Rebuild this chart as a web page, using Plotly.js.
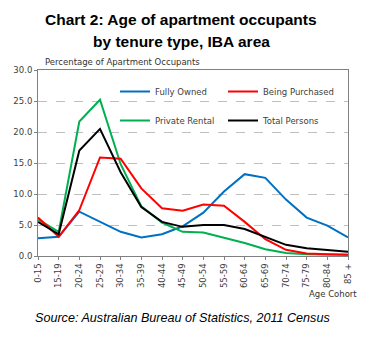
<!DOCTYPE html>
<html><head><meta charset="utf-8">
<script src="https://cdn.plot.ly/plotly-3.0.1.min.js"></script>
<style>html,body{margin:0;padding:0;background:#fff}#chart{width:381px;height:356px}</style>
</head><body><div id="chart"></div>
<script>
const ageCohorts = ["0-15","15-19","20-24","25-29","30-34","35-39","40-44","45-49","50-54","55-59","60-64","65-69","70-74","75-79","80-84","85 +"];
const fullyOwned     = [2.85,3.1,7.15,5.5,3.9,3.0,3.5,4.8,7.0,10.4,13.2,12.6,9.1,6.2,4.9,3.0];
const beingPurchased = [6.2,3.1,7.4,15.9,15.7,10.9,7.7,7.3,8.3,8.1,5.5,2.7,1.0,0.4,0.3,0.2];
const privateRental  = [5.9,3.9,21.7,25.2,14.8,8.0,5.4,3.9,3.8,3.0,2.1,1.1,0.5,0.3,0.2,0.2];
const totalPersons   = [5.5,3.5,17.0,20.5,13.5,7.9,5.5,4.7,5.0,5.0,4.35,3.1,1.8,1.25,1.0,0.7];

const L=38, R=33, T=70, B=100, W=381, H=356;
const pw = W-L-R, ph = H-T-B;
const px = x => (x-L)/pw;
const py = y => (H-B-y)/ph;

function tr(name, y, color, lg, grp){
  return {type:'scatter', mode:'lines', x:ageCohorts, y:y, name:name,
    line:{color:color, width:2}, legend:lg, legendgroup:grp, hoverinfo:'skip'};
}
const data = [
  tr("Fully Owned", fullyOwned, "#0070C0", "legend", "a"),
  tr("Private Rental", privateRental, "#00B050", "legend", "b"),
  tr("Being Purchased", beingPurchased, "#FF0000", "legend2", "c"),
  tr("Total Persons", totalPersons, "#000000", "legend2", "d")
];
const f = {family:"DejaVu Sans", size:8.5, color:"#404040"};
const legBase = {font:f, bgcolor:'rgba(0,0,0,0)', borderwidth:0, tracegroupgap:10,
  xanchor:'left', yanchor:'top', itemwidth:30};
const tf = {family:"Liberation Sans, Arial", size:15.5, color:'#000'};
const layout = {
  width:W, height:H, margin:{l:L, r:R, t:T, b:B}, showlegend:true,
  paper_bgcolor:'#fff', plot_bgcolor:'#fff', font:f,
  xaxis:{type:'category', range:[0,15], tickangle:-90, tickfont:f, ticks:'outside', ticklen:3, tickcolor:'#808080',
    showgrid:false, showline:true, mirror:true, linecolor:'#808080', linewidth:1, zeroline:false, fixedrange:true},
  yaxis:{range:[0,30], dtick:5, tickformat:'.1f', tickfont:f, ticks:'outside', ticklen:3, tickcolor:'#808080',
    showgrid:true, gridcolor:'#bfbfbf', griddash:'dash', gridwidth:1,
    showline:true, mirror:true, linecolor:'#808080', linewidth:1, zeroline:false, fixedrange:true},
  legend: Object.assign({}, legBase, {x:px(115), y:py(77)}),
  legend2: Object.assign({}, legBase, {x:px(223), y:py(77)}),
  annotations:[
    {text:"<b>Chart 2: Age of apartment occupants</b>", xref:'paper', yref:'paper',
      x:px(181), y:py(19), xanchor:'center', yanchor:'middle', showarrow:false, font:tf},
    {text:"<b>by tenure type, IBA area</b>", xref:'paper', yref:'paper',
      x:px(181), y:py(42), xanchor:'center', yanchor:'middle', showarrow:false, font:tf},
    {text:"Percentage of Apartment Occupants", xref:'paper', yref:'paper', x:px(43), y:py(62),
      xanchor:'left', yanchor:'middle', showarrow:false, font:{family:"DejaVu Sans", size:8.5, color:'#333'}},
    {text:"Age Cohort", xref:'paper', yref:'paper', x:px(359), y:py(294),
      xanchor:'right', yanchor:'middle', showarrow:false, font:{family:"DejaVu Sans", size:8.5, color:'#333'}},
    {text:"<i>Source: Australian Bureau of Statistics, 2011 Census</i>", xref:'paper', yref:'paper', x:px(33), y:py(318),
      xanchor:'left', yanchor:'middle', showarrow:false, font:{family:"Liberation Sans, Arial", size:12.6, color:'#000'}}
  ]
};
Plotly.newPlot('chart', data, layout, {displayModeBar:false, staticPlot:true});
</script></body></html>
